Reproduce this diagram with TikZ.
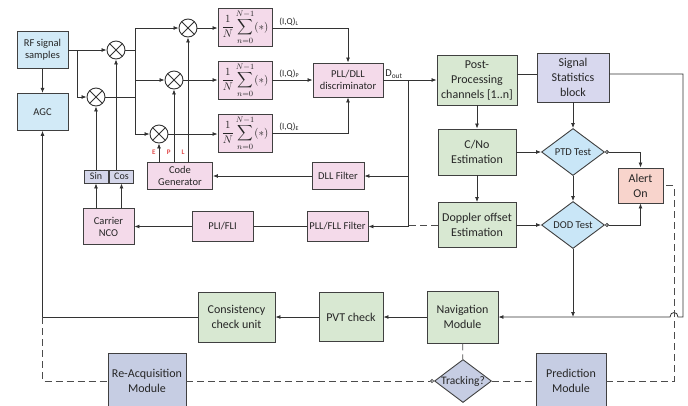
\documentclass[tikz,border=0pt]{standalone}
\usepackage{fontspec}
\setmainfont{Carlito}
\usepackage{amsmath}
\usetikzlibrary{shapes.geometric, arrows.meta, positioning, calc}
\definecolor{lblu}{HTML}{D2EAF7}
\definecolor{pnk}{HTML}{F4DAEA}
\definecolor{trg}{HTML}{D4D6EA}
\definecolor{grn}{HTML}{D8E8D2}
\definecolor{lav}{HTML}{D8D8EE}
\definecolor{dia}{HTML}{C9E6F7}
\definecolor{alr}{HTML}{F8D4CC}
\definecolor{gry}{HTML}{C6CDE3}
\definecolor{eplc}{HTML}{E04A4A}
\newcommand{\accum}{$\displaystyle\frac{1}{N}\sum_{n=0}^{N-1}(*)$}
\tikzset{
  sz/.style 2 args = {minimum width=#1pt, minimum height=#2pt},
  bx/.style   = {rectangle, draw=black!75, line width=0.9pt, align=center,
                 inner sep=1pt, text=black!85},
  lbx/.style  = {bx, font=\fontsize{10.5}{12}\selectfont},
  rbx/.style  = {bx, font=\fontsize{12}{15}\selectfont},
  blubx/.style= {lbx, fill=lblu},
  pnkbx/.style= {lbx, fill=pnk},
  trgbx/.style= {bx, fill=trg, sz={24}{13}, inner sep=0pt,
                 font=\fontsize{10}{11}\selectfont},
  sumbx/.style= {bx, fill=pnk, sz={54}{38}, inner sep=0pt,
                 font=\fontsize{11}{13}\selectfont},
  grnbx/.style= {rbx, fill=grn},
  lavbx/.style= {rbx, fill=lav},
  alrbx/.style= {rbx, fill=alr},
  grybx/.style= {rbx, fill=gry},
  dtest/.style= {diamond, draw=black!75, line width=0.9pt, fill=dia,
                 inner sep=0pt, text=black!85, font=\fontsize{10.5}{12}\selectfont},
  trk/.style  = {dtest, fill=gry, inner sep=-3pt, font=\fontsize{11.5}{13}\selectfont},
  mix/.style  = {circle, draw=black!80, line width=0.9pt, fill=white,
                 minimum size=18pt, inner sep=0pt,
                 path picture={\draw[line width=0.9pt]
                   (path picture bounding box.north west) -- (path picture bounding box.south east)
                   (path picture bounding box.north east) -- (path picture bounding box.south west);}},
  arr/.style  = {-{Latex[length=5pt,width=4pt]}, line width=0.8pt, draw=black!80},
  ln/.style   = {line width=0.8pt, draw=black!80},
  oarr/.style = {arr, {Circle[open,length=4pt,width=4pt]}-{Latex[length=5pt,width=4pt]}},
  dsh/.style  = {line width=0.8pt, draw=black!70, dash pattern=on 7pt off 4pt},
  lbl/.style  = {font=\fontsize{9}{10}\selectfont, text=black!85, inner sep=1.5pt},
  epl/.style  = {font=\fontsize{7}{8}\selectfont\bfseries, text=eplc, inner sep=0pt},
}

\begin{document}
\begin{tikzpicture}[x=1pt, y=-1pt, node distance=24pt]
  \useasboundingbox (0,0) rectangle (688,405);

  % front end and correlators
  \node[blubx, sz={51}{37}] (rf) at (42.5,50) {RF signal\\samples};
  \node[blubx, sz={51}{37}, below=of rf] (agc) {AGC};

  \node[mix] (mix1) at (116,50) {};
  \node[mix] (mix2) at (96,97) {};
  \node[mix] (mixL) at (188,28) {};
  \node[mix] (mixP) at (174,80) {};
  \node[mix] (mixE) at (159,134) {};

  \node[sumbx] (sumL) at (245,27)  {\accum};
  \node[sumbx] (sumP) at (245,80)  {\accum};
  \node[sumbx] (sumE) at (245,133) {\accum};

  \node[pnkbx, sz={70}{34}] (disc) at (348,80) {PLL/DLL\\discriminator};
  \node[pnkbx, sz={52}{27}] (dll)  at (338,176) {DLL Filter};
  \node[pnkbx, sz={65}{27}] (code) at (180,176) {Code\\Generator};
  \node[pnkbx, sz={61}{30}] (pllf) at (337.5,226.5) {PLL/FLL Filter};
  \node[pnkbx, sz={61}{30}, left=53pt of pllf] (pli) {PLI/FLI};
  \node[pnkbx, sz={51}{36}] (nco)  at (108.5,226.5) {Carrier\\NCO};
  \node[trgbx] (sin) at (96,176.5) {Sin};
  \node[trgbx] (cos) at (121.5,176.5) {Cos};

  % monitoring
  \node[grnbx, sz={80}{50}] (post)  at (477,80) {Post-\\Processing\\channels [1..n]};
  \node[lavbx, sz={72}{49}] (stats) at (573,77.5) {Signal\\Statistics\\block};
  \node[grnbx, sz={78}{46}] (cno)   at (477,152) {C/No\\Estimation};
  \node[grnbx, sz={78}{45}] (dop)   at (477,225) {Doppler offset\\Estimation};
  \node[dtest, sz={63}{47}] (ptd)   at (573,152) {PTD Test};
  \node[dtest, sz={63}{47}] (dod)   at (573,225) {DOD Test};
  \node[alrbx, sz={45}{35}] (alert) at (640.5,185.5) {Alert\\On};

  % navigation
  \node[grnbx, sz={71}{52}] (nav)   at (462.5,317) {Navigation\\Module};
  \node[grnbx, sz={64}{49}] (pvt)   at (351,317) {PVT check};
  \node[grnbx, sz={77}{50}] (cons)  at (236.5,317) {Consistency\\check unit};
  \node[grybx, sz={78}{56}] (reacq) at (147,381) {Re-Acquisition\\Module};
  \node[trk,   sz={57}{43}] (track) at (463,381) {Tracking?};
  \node[grybx, sz={70}{56}] (pred)  at (571,381) {Prediction\\Module};

  \coordinate (jrf) at (77,50);
  \coordinate (br)  at (135,50);
  \coordinate (jd)  at (408,80);
  \coordinate (sl)  at (0,74);
  \coordinate (rr)  at (683,0);
  \coordinate (dr)  at (674,0);

  \foreach \i/\j in {rf/mix1, rf/agc, dll/code, pli/nco, post/cno, cno/dop,
                     stats/ptd, ptd/dod, cno/ptd, dop/dod, nav/pvt, pvt/cons}
    \draw[arr] (\i) -- (\j);

  \draw[arr] (jrf) |- (mix2);
  \draw[ln] (mix1) -- (br);
  \draw[ln] (mix2) -- (mix2 -| br);
  \draw[ln] (br |- mixL) -- (br |- mixE);
  \foreach \m in {mixL, mixP, mixE}
    \draw[arr] (br |- \m) -- (\m);
  \foreach \m/\s in {mixL/sumL, mixP/sumP, mixE/sumE}
    \draw[arr] (\m) -- (\m -| \s.west);

  \draw[arr] (sumL.east |- mixL) -| (disc.north)
    node[lbl, at start, above right, xshift=5pt] {(I,Q)\textsubscript{L}};
  \draw[arr] (sumP) -- (disc)
    node[lbl, at start, above right, xshift=5pt] {(I,Q)\textsubscript{P}};
  \draw[arr] (sumE.east) -| (disc.south)
    node[lbl, at start, above right, xshift=5pt] {(I,Q)\textsubscript{E}};

  \draw[arr] (disc) -- (post)
    node[lbl, at start, above right, font=\fontsize{10.5}{12}\selectfont] {D\textsubscript{out}};
  \draw[arr] (jd) |- (pllf);
  \draw[arr] (jd |- dll) -- (dll);
  \draw[dsh] (dop) -- (dop -| jd);
  \draw[ln] (pllf) -- (pli);

  \draw[arr] (nco.north -| sin) -- (sin);
  \draw[arr] (nco.north -| cos) -- (cos);
  \draw[arr] (sin) -- (mix2);
  \draw[arr] (cos.north -| mix1) -- (mix1);
  \foreach \m/\t in {mixE/E, mixP/P, mixL/L}
    \draw[arr] (code.north -| \m) -- (\m)
      node[epl, at start, anchor=south east, xshift=-3pt, yshift=7pt] {\t};

  \draw[oarr] (ptd.east) -| (alert.north);
  \draw[oarr] (dod.east) -| (alert.south);
  \draw[ln] (post.east |- sl) -- (stats.west |- sl);
  \draw[arr] (stats.east |- sl) -| (rr |- nav) -- (678,317)
    .. controls (678,311) and (670,311) .. (670,317) -- (nav.east);
  \draw[arr] (dod) -- (dod |- nav);
  \draw[arr] (cons) -| (agc);

  % re-acquisition loop
  \draw[dsh] (cons -| agc) |- (reacq);
  \draw[dsh, -{Circle[open,length=4pt,width=4pt]}] (reacq) -- (track);
  \draw[dsh] (nav) -- (track);
  \draw[dsh] (track) -- (pred);
  \draw[dsh] (pred) -| (dr |- alert) -- (alert);

\end{tikzpicture}
\end{document}
